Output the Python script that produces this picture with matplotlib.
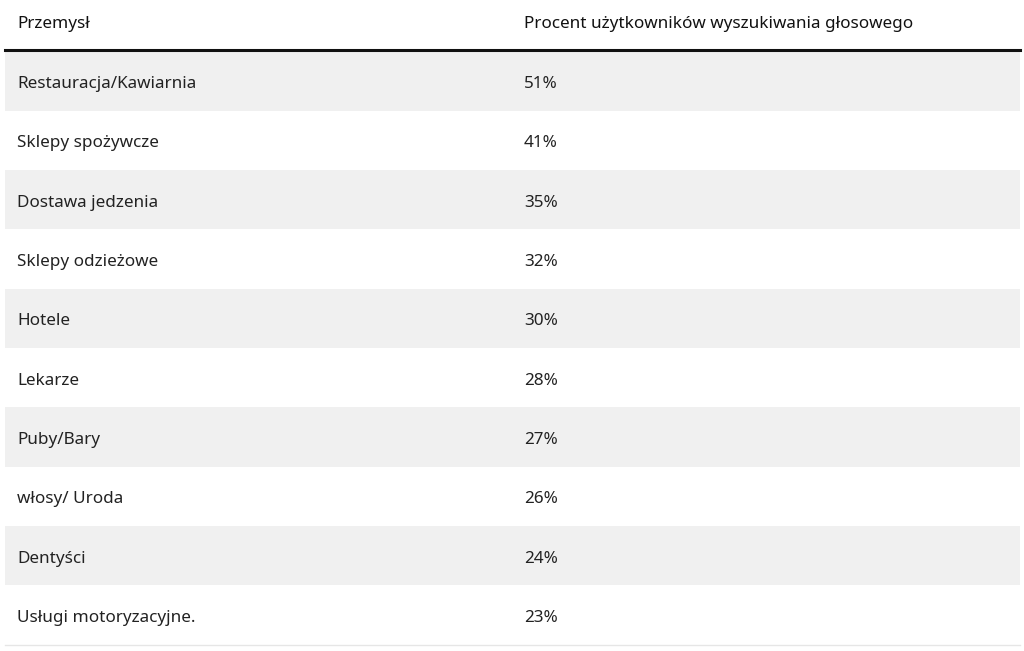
import matplotlib.pyplot as plt
from matplotlib.patches import Rectangle

headers = ["Przemysł", "Procent użytkowników wyszukiwania głosowego"]
industries = ["Restauracja/Kawiarnia", "Sklepy spożywcze", "Dostawa jedzenia", "Sklepy odzieżowe",
              "Hotele", "Lekarze", "Puby/Bary", "włosy/ Uroda", "Dentyści", "Usługi motoryzacyjne."]
percents = [51, 41, 35, 32, 30, 28, 27, 26, 24, 23]

W, H = 1024, 651
fig = plt.figure(figsize=(W/100, H/100), dpi=100)
ax = fig.add_axes([0, 0, 1, 1])
ax.set_xlim(0, W); ax.set_ylim(H, 0); ax.axis('off')

font = "Noto Sans"
fs = 12.3
ax.text(17, 24, headers[0], fontsize=fs, fontweight='bold', family=font, va='center', color='#111')
ax.text(524, 24, headers[1], fontsize=fs, fontweight='bold', family=font, va='center', color='#111')
ax.plot([5, 1020], [49.5, 49.5], color='#111', lw=2.2)

top, rh = 51.5, 59.3
for i, (name, p) in enumerate(zip(industries, percents)):
    y0 = top + i*rh
    if i % 2 == 0:
        ax.add_patch(Rectangle((5, y0), 1015, rh, color='#f0f0f0', lw=0))
    yc = y0 + rh/2 + 3
    ax.text(17, yc, name, fontsize=fs, family=font, va='center', color='#222')
    ax.text(524, yc, f"{p}%", fontsize=fs, family=font, va='center', color='#222')
ax.plot([5, 1020], [top+10*rh, top+10*rh], color='#e6e6e6', lw=1)

fig.savefig("out.png", dpi=100)
